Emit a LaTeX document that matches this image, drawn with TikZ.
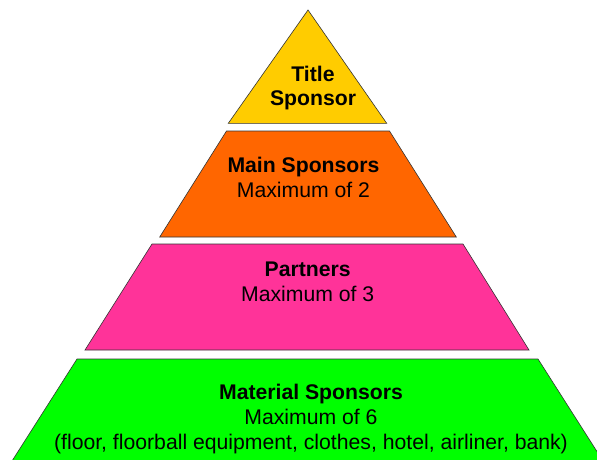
\documentclass[tikz,border=0pt]{standalone}
\usepackage{fontspec}
\setmainfont{Liberation Sans}
\usepackage{tikz}

\definecolor{titleyellow}{HTML}{FFCC00}
\definecolor{mainorange}{HTML}{FF6600}
\definecolor{partnerpink}{HTML}{FF3399}
\definecolor{materialgreen}{HTML}{00FF00}

\tikzset{
  tier/.style={draw=black!80, line width=0.6pt},
  tiertext/.style={align=center, inner sep=0pt, anchor=base,
    font=\fontsize{21.2}{25}\selectfont}
}

\begin{document}
\begin{tikzpicture}[x=1pt,y=1pt]
            \clip (0,0) rectangle (597,459);
            \fill[white] (0,0) rectangle (597,459);
            % Title sponsor
            \draw[tier,fill=titleyellow] (308,449) -- (386.7,335.7) -- (228.3,335.7) -- cycle;
            \node[tiertext] (title) at (313,353) {\bfseries Title\\\bfseries Sponsor};
            % Main sponsors
            \draw[tier,fill=mainorange] (226.5,328) -- (389.5,328) -- (456.3,222) -- (159.7,222) -- cycle;
            \node[tiertext] (main) at (303.5,261.7) {\bfseries Main Sponsors\\Maximum of 2};
            % Partners
            \draw[tier,fill=partnerpink] (152,215) -- (463,215) -- (529,109) -- (85,109) -- cycle;
            \node[tiertext] (partners) at (307.7,157.3) {\bfseries Partners\\Maximum of 3};
            % Material sponsors
            \draw[tier,fill=materialgreen] (77,100) -- (538,100) -- (603,-2) -- (12,-2) -- cycle;
            \node[tiertext] (material) at (311,10) {\bfseries Material Sponsors\\Maximum of 6\\(floor, floorball equipment, clothes, hotel, airliner, bank)};
        \end{tikzpicture}
\end{document}
